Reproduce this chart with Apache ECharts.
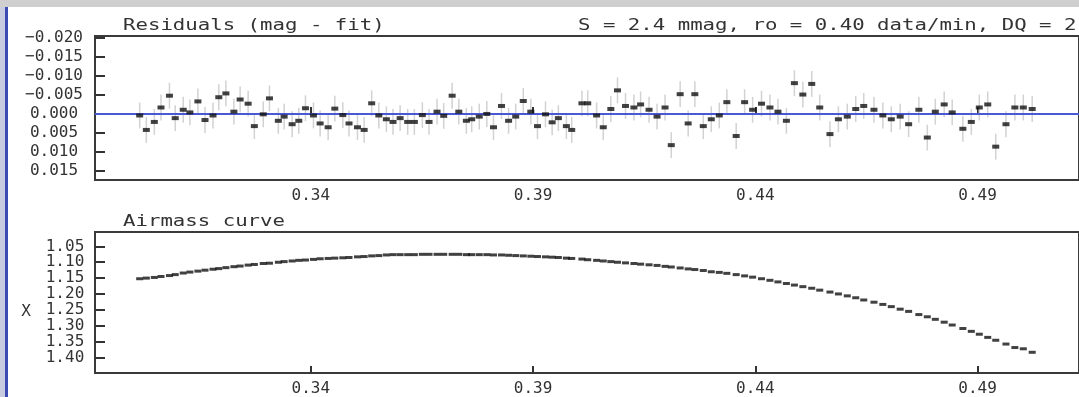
<!DOCTYPE html>
<html><head><meta charset="utf-8">
<script src="https://cdn.jsdelivr.net/npm/echarts@6/dist/echarts.min.js"></script>
<style>html,body{margin:0;padding:0;background:#fff;overflow:hidden}#c{width:1079px;height:397px}</style>
</head><body><div id="c"></div>
<script>
const phase = [
0.3015,0.3030,0.3048,0.3063,0.3082,0.3095,0.3113,0.3128,0.3146,0.3162,
0.3180,0.3193,0.3209,0.3227,0.3241,0.3259,0.3273,0.3293,0.3307,0.3327,
0.3340,0.3358,0.3373,0.3388,0.3406,0.3421,0.3439,0.3454,0.3472,0.3486,
0.3505,0.3520,0.3537,0.3553,0.3570,0.3585,0.3601,0.3618,0.3633,0.3651,
0.3666,0.3684,0.3699,0.3718,0.3733,0.3750,0.3762,0.3779,0.3796,0.3811,
0.3829,0.3845,0.3861,0.3878,0.3895,0.3910,0.3928,0.3943,0.3957,0.3975,
0.3987,0.4010,0.4023,0.4043,0.4058,0.4075,0.4090,0.4108,0.4127,0.4142,
0.4161,0.4179,0.4197,0.4211,0.4231,0.4249,0.4264,0.4283,0.4301,0.4319,
0.4336,0.4357,0.4376,0.4394,0.4414,0.4433,0.4451,0.4470,0.4488,0.4507,
0.4527,0.4545,0.4568,0.4587,0.4607,0.4626,0.4644,0.4667,0.4687,0.4706,
0.4726,0.4745,0.4768,0.4787,0.4805,0.4825,0.4843,0.4867,0.4886,0.4904,
0.4923,0.4941,0.4964,0.4984,0.5003,0.5023];

const residual = [
0.0004,0.0042,0.0021,-0.0017,-0.0048,0.0011,-0.0011,-0.0004,-0.0033,0.0016,
0.0004,-0.0044,-0.0054,-0.0006,-0.0038,-0.0027,0.0032,0.0001,-0.0041,0.0018,
0.0007,0.0027,0.0018,-0.0015,0.0004,0.0025,0.0035,-0.0014,0.0003,0.0025,
0.0035,0.0042,-0.0028,0.0004,0.0014,0.0021,0.0011,0.0021,0.0021,0.0003,
0.0021,-0.0006,0.0005,-0.0048,-0.0006,0.0018,0.0014,0.0007,0.0000,0.0035,
-0.0021,0.0018,0.0007,-0.0034,-0.0006,0.0032,0.0001,0.0022,0.0011,0.0032,
0.0042,-0.0028,-0.0028,0.0004,0.0035,-0.0013,-0.0062,-0.0021,-0.0017,-0.0025,
-0.0011,0.0007,-0.0017,0.0082,-0.0052,0.0025,-0.0052,0.0032,0.0014,0.0004,
-0.0031,0.0058,-0.0031,-0.0011,-0.0027,-0.0017,-0.0006,0.0018,-0.0081,-0.0051,
-0.0079,-0.0017,0.0053,0.0014,0.0007,-0.0013,-0.0021,-0.0011,0.0004,0.0014,
0.0007,0.0027,-0.0011,0.0062,-0.0006,-0.0025,-0.0004,0.0039,0.0021,-0.0017,
-0.0025,0.0086,0.0027,-0.0017,-0.0017,-0.0013];

const residualError = [
0.0034,0.0034,0.0034,0.0034,0.0034,0.0034,0.0034,0.0034,0.0034,0.0034,
0.0034,0.0034,0.0034,0.0034,0.0034,0.0034,0.0034,0.0034,0.0034,0.0034,
0.0034,0.0034,0.0034,0.0034,0.0034,0.0034,0.0034,0.0034,0.0034,0.0034,
0.0034,0.0034,0.0034,0.0034,0.0034,0.0034,0.0034,0.0034,0.0034,0.0034,
0.0034,0.0034,0.0034,0.0034,0.0034,0.0034,0.0034,0.0034,0.0034,0.0034,
0.0034,0.0034,0.0034,0.0034,0.0034,0.0034,0.0034,0.0034,0.0034,0.0034,
0.0034,0.0034,0.0034,0.0034,0.0034,0.0034,0.0034,0.0034,0.0034,0.0034,
0.0034,0.0034,0.0034,0.0034,0.0034,0.0034,0.0034,0.0034,0.0034,0.0034,
0.0034,0.0034,0.0034,0.0034,0.0034,0.0034,0.0034,0.0034,0.0034,0.0034,
0.0034,0.0034,0.0034,0.0034,0.0034,0.0034,0.0034,0.0034,0.0034,0.0034,
0.0034,0.0034,0.0034,0.0034,0.0034,0.0034,0.0034,0.0034,0.0034,0.0034,
0.0034,0.0034,0.0034,0.0034,0.0034,0.0034];

const airmass = [
1.152,1.150,1.148,1.145,1.142,1.139,1.134,1.131,1.128,1.125,
1.122,1.120,1.117,1.114,1.112,1.109,1.107,1.104,1.103,1.100,
1.098,1.096,1.094,1.093,1.091,1.089,1.088,1.087,1.086,1.085,
1.083,1.082,1.080,1.079,1.077,1.076,1.076,1.076,1.076,1.075,
1.075,1.075,1.075,1.075,1.075,1.076,1.076,1.076,1.076,1.077,
1.077,1.078,1.079,1.080,1.081,1.082,1.083,1.084,1.085,1.087,
1.088,1.090,1.092,1.094,1.096,1.098,1.100,1.102,1.104,1.106,
1.108,1.110,1.113,1.115,1.118,1.121,1.123,1.126,1.130,1.132,
1.135,1.139,1.143,1.147,1.152,1.157,1.162,1.167,1.172,1.177,
1.182,1.188,1.194,1.200,1.206,1.212,1.219,1.226,1.233,1.240,
1.248,1.255,1.265,1.272,1.280,1.289,1.298,1.309,1.318,1.327,
1.337,1.346,1.358,1.369,1.373,1.384];

const residualTicks = [-0.020,-0.015,-0.010,-0.005,0.000,0.005,0.010,0.015];
const airmassTicks = [1.05,1.10,1.15,1.20,1.25,1.30,1.35,1.40];
const phaseTicks = [0.34,0.39,0.44,0.49];

const topTitle = 'Residuals (mag - fit)';
const topStats = 'S = 2.4 mmag, ro = 0.40 data/min, DQ = 2';
const bottomTitle = 'Airmass curve';
const bottomAxisName = 'X';

const FONT = 'DejaVu Sans Mono';
const TXT = '#333333';
const chart = echarts.init(document.getElementById('c'), null, {renderer: 'canvas'});

const xMin = 0.29145, xMax = 0.51283;
function fmtSigned(v){ const s = Math.abs(v).toFixed(3); return v < -1e-9 ? '\u2212' + s : s; }

const labelBase = {show: true, color: TXT, fontFamily: FONT, fontSize: 16, lineHeight: 14,
                   showMinLabel: true, showMaxLabel: true, hideOverlap: false};

const xAxisBase = (gi) => ({
  type: 'value', gridIndex: gi, min: xMin, max: xMax,
  axisLine: {show: false},
  splitLine: {show: false},
  axisTick: {show: true, inside: true, length: 7, customValues: phaseTicks, lineStyle: {color: '#333', width: 2}},
  axisLabel: Object.assign({}, labelBase, {customValues: phaseTicks, margin: 9, formatter: v => v.toFixed(2)})
});

const option = {
  animation: false,
  backgroundColor: '#ffffff',
  grid: [
    {left: 95, top: 36, width: 994, height: 144, show: true, borderColor: '#3a3a3a', borderWidth: 2, backgroundColor: 'transparent'},
    {left: 95, top: 232, width: 994, height: 144, show: true, borderColor: '#3a3a3a', borderWidth: 2, backgroundColor: 'transparent'}
  ],
  xAxis: [xAxisBase(0), xAxisBase(1)],
  yAxis: [
    {type: 'value', gridIndex: 0, inverse: true, min: -0.0205, max: 0.01737,
     axisLine: {show: false}, splitLine: {show: false},
     axisTick: {show: true, inside: true, length: 10, customValues: residualTicks, lineStyle: {color: '#333', width: 2}},
     axisLabel: Object.assign({}, labelBase, {customValues: residualTicks, align: 'center', margin: 41, formatter: fmtSigned})},
    {type: 'value', gridIndex: 1, inverse: true, min: 1.0046, max: 1.4493,
     axisLine: {show: false}, splitLine: {show: false},
     axisTick: {show: true, inside: true, length: 10, customValues: airmassTicks, lineStyle: {color: '#333', width: 2}},
     axisLabel: Object.assign({}, labelBase, {customValues: airmassTicks, align: 'center', margin: 30, formatter: v => v.toFixed(2)})}
  ],
  series: [
    {
      type: 'custom', xAxisIndex: 0, yAxisIndex: 0, silent: true, z: 2,
      data: phase.map((p, i) => [p, residual[i], residualError[i]]),
      renderItem: function (params, api) {
        const x = api.value(0), y = api.value(1), e = api.value(2);
        const a = api.coord([x, y - e]), b = api.coord([x, y + e]);
        return {type: 'line', shape: {x1: a[0], y1: a[1], x2: b[0], y2: b[1]},
                style: {stroke: '#d2d2d2', lineWidth: 1.5}};
      }
    },
    {
      type: 'scatter', xAxisIndex: 0, yAxisIndex: 0, z: 4,
      symbol: 'rect', symbolSize: [7, 4],
      itemStyle: {color: '#111111'},
      data: phase.map((p, i) => [p, residual[i]]),
      markLine: {
        silent: true, symbol: 'none', z: 3,
        label: {show: false},
        lineStyle: {color: '#4a58d6', width: 2, type: 'solid'},
        data: [{yAxis: 0}]
      }
    },
    {
      type: 'scatter', xAxisIndex: 1, yAxisIndex: 1, z: 4,
      symbol: 'rect', symbolSize: [7, 3],
      itemStyle: {color: '#111111'},
      data: phase.map((p, i) => [p, airmass[i]])
    }
  ],
  graphic: [
    {type: 'rect', shape: {x: 0, y: 0, width: 1079, height: 7}, style: {fill: '#cfcfcf'}, z: 10},
    {type: 'rect', shape: {x: 0, y: 7, width: 5, height: 390}, style: {fill: '#c9cce0'}, z: 10},
    {type: 'rect', shape: {x: 5, y: 7, width: 3, height: 390}, style: {fill: '#3c4bb4'}, z: 10},
    {type: 'text', x: 123, y: 26, scaleX: 1.38, z: 10,
     style: {text: topTitle, font: '15px "DejaVu Sans Mono"', fill: TXT, verticalAlign: 'middle'}},
    {type: 'text', x: 578, y: 26, scaleX: 1.38, z: 10,
     style: {text: topStats, font: '15px "DejaVu Sans Mono"', fill: TXT, verticalAlign: 'middle'}},
    {type: 'text', x: 123, y: 222, scaleX: 1.38, z: 10,
     style: {text: bottomTitle, font: '15px "DejaVu Sans Mono"', fill: TXT, verticalAlign: 'middle'}},
    {type: 'text', x: 26, y: 312, z: 10,
     style: {text: bottomAxisName, font: '16px "DejaVu Sans Mono"', fill: TXT, align: 'center', verticalAlign: 'middle'}}
  ]
};
chart.setOption(option);
</script>
</body></html>
